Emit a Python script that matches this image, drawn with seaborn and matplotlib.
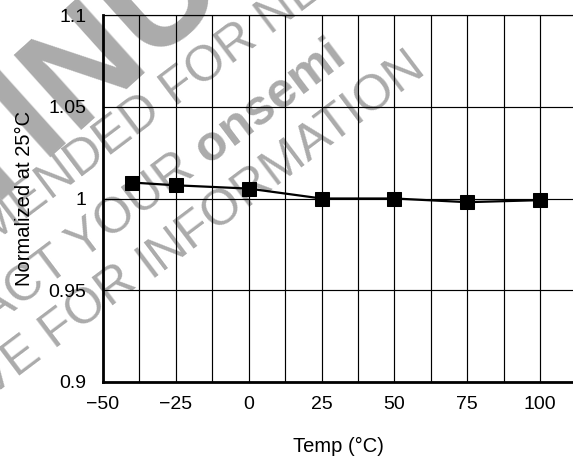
import matplotlib
matplotlib.use('Agg')
import matplotlib.pyplot as plt
import seaborn as sns
import pandas as pd
from matplotlib.ticker import MultipleLocator

# Werte
temp = [-40, -25, 0, 25, 50, 75, 100]
normalized = [1.0087, 1.0072, 1.0054, 1.0000, 1.0000, 0.9980, 0.9991]

x_ticks = [-50, -25, 0, 25, 50, 75, 100]
x_tick_labels = ['\u221250', '\u221225', '0', '25', '50', '75', '100']
y_ticks = [0.9, 0.95, 1.0, 1.05, 1.1]
y_tick_labels = ['0.9', '0.95', '1', '1.05', '1.1']

df = pd.DataFrame({'temp': temp, 'norm': normalized})

sns.set_theme(style='white')
plt.rcParams['font.family'] = ['Liberation Sans', 'DejaVu Sans']

fig = plt.figure(figsize=(5.73, 4.62), dpi=100)
ax = fig.add_axes([103 / 573, 1 - 382 / 462, 470 / 573, 367 / 462])
ax.patch.set_facecolor('none')

# Wasserzeichen (hinter dem Diagramm)
wm_color = '#ababab'
def px(x, y):
    return x / 573, 1 - y / 462

def wm(x, y, left, right, size, rot, bold_right=False):
    fx, fy = px(x, y)
    fig.text(fx, fy, left, ha='right', va='baseline', rotation=rot,
             rotation_mode='anchor', fontsize=size, color=wm_color, zorder=-1)
    fig.text(fx, fy, right, ha='left', va='baseline', rotation=rot,
             rotation_mode='anchor', fontsize=size, color=wm_color, zorder=-1,
             fontweight='bold' if bold_right else 'normal')

wm(175, 107, 'NOT RECOMMENDED ', 'FOR NEW DESIGN', 36, 37)
wm(208, 165, 'CONTACT YOUR ', 'onsemi', 36, 37, bold_right=True)
wm(150, 278, 'REPRESENTATIVE FOR ', 'INFORMATION', 36, 37)
fx, fy = px(72, 130)
fig.text(fx, fy, 'DISCONTI', ha='right', va='baseline', rotation=42,
         rotation_mode='anchor', fontsize=105, fontweight='bold', color=wm_color, zorder=-1)
fig.text(fx, fy, 'NUED', ha='left', va='baseline', rotation=42,
         rotation_mode='anchor', fontsize=105, fontweight='bold', color=wm_color, zorder=-1)

sns.lineplot(data=df, x='temp', y='norm', ax=ax, color='black', linewidth=1.6,
             marker='s', markersize=9.5, markeredgecolor='black', markerfacecolor='black')

ax.set_xlim(-50, 111.3)
ax.set_ylim(0.9, 1.1)
ax.set_xticks(x_ticks)
ax.set_xticklabels(x_tick_labels)
ax.set_yticks(y_ticks)
ax.set_yticklabels(y_tick_labels)
ax.xaxis.set_minor_locator(MultipleLocator(12.5))
ax.grid(True, which='major', axis='both', color='black', linewidth=0.85)
ax.grid(True, which='minor', axis='x', color='black', linewidth=0.85)
ax.tick_params(axis='both', which='both', length=0, labelsize=14, colors='black')
ax.tick_params(axis='x', pad=10)
ax.tick_params(axis='y', pad=12)

ax.spines['right'].set_visible(False)
ax.spines['top'].set_linewidth(0.85)
ax.spines['top'].set_color('black')
for s in ['left', 'bottom']:
    ax.spines[s].set_linewidth(2.0)
    ax.spines[s].set_color('black')

ax.set_xlabel('Temp (\u00b0C)', fontsize=14.5, color='black', labelpad=17)
ax.set_ylabel('Normalized at 25\u00b0C', fontsize=14.5, color='black', labelpad=10)

fig.savefig('out.png', dpi=100)
